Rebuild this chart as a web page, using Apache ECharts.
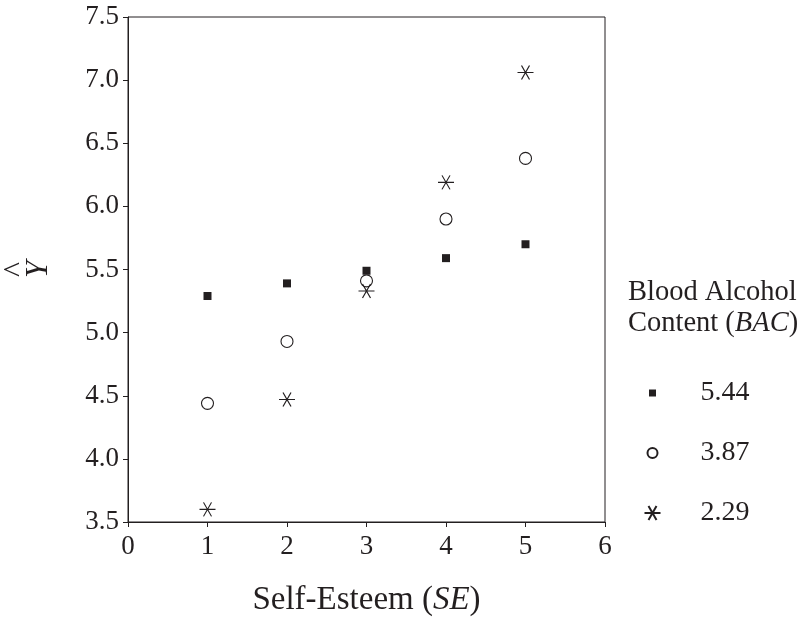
<!DOCTYPE html>
<html><head><meta charset="utf-8">
<script src="https://cdn.jsdelivr.net/npm/echarts@6/dist/echarts.min.js"></script>
<style>html,body{margin:0;padding:0;background:#fff}#c{width:801px;height:617px}</style>
</head><body><div id="c"></div>
<script>
const selfEsteem = [1, 2, 3, 4, 5];
const bac544 = [5.29, 5.39, 5.49, 5.59, 5.70];
const bac387 = [4.44, 4.93, 5.41, 5.90, 6.38];
const bac229 = [3.60, 4.47, 5.33, 6.19, 7.06];
const seriesNames = ['5.44', '3.87', '2.29'];
const xTicks = [0, 1, 2, 3, 4, 5, 6];
const yTicks = [3.5, 4.0, 4.5, 5.0, 5.5, 6.0, 6.5, 7.0, 7.5];

const ink = '#231f20';
const font = '"Liberation Serif", "Times New Roman", serif';
const star = 'path://M0,7 L16,7 M4,0 L12,14 M12,0 L4,14';
const legendSquare = 'path://M0,0 M16,14 M4.5,3.5 L11.5,3.5 L11.5,10.5 L4.5,10.5 Z';
const legendCircle = 'path://M0,0 M16,14 M13,7 A5,5 0 1 1 3,7 A5,5 0 1 1 13,7 Z';
const pairs = v => selfEsteem.map((x, i) => [x, v[i]]);

const chart = echarts.init(document.getElementById('c'));
chart.setOption({
  animation: false,
  textStyle: { fontFamily: font, color: ink },
  grid: { left: 128, right: 196, top: 17, bottom: 95, show: true, borderColor: ink, borderWidth: 1,
          containLabel: false, outerBoundsMode: 'none' },
  xAxis: {
    type: 'value', min: xTicks[0], max: xTicks[xTicks.length - 1], interval: 1,
    axisLine: { show: true, lineStyle: { color: ink, width: 1 } },
    axisTick: { show: true, length: 5, lineStyle: { color: ink } },
    splitLine: { show: false },
    axisLabel: { fontFamily: font, fontSize: 27, color: ink, margin: 11 },
    name: '{n|Self-Esteem (}{i|SE}{n|)}', nameLocation: 'middle', nameGap: 62,
    nameTextStyle: { rich: { n: { fontFamily: font, fontSize: 33, color: ink }, i: { fontFamily: font, fontSize: 33, fontStyle: 'italic', color: ink } } }
  },
  yAxis: {
    type: 'value', min: yTicks[0], max: yTicks[yTicks.length - 1], interval: 0.5,
    axisLine: { show: true, lineStyle: { color: ink, width: 1 } },
    axisTick: { show: true, length: 5, lineStyle: { color: ink } },
    splitLine: { show: false },
    axisLabel: { fontFamily: font, fontSize: 27, color: ink, margin: 9, formatter: v => v.toFixed(1) },
    name: '{h|^}\n{y|Y}', nameLocation: 'middle', nameGap: 75, nameRotate: 90,
    nameTextStyle: { align: 'center', rich: {
      h: { fontFamily: font, fontSize: 32, color: ink, lineHeight: 16, align: 'center' },
      y: { fontFamily: font, fontSize: 31, fontStyle: 'italic', color: ink, lineHeight: 28, align: 'center' } } }
  },
  legend: {
    orient: 'vertical', left: 637, top: 373, itemGap: 30, itemWidth: 16, itemHeight: 14,
    textStyle: { fontFamily: font, fontSize: 28, lineHeight: 30, color: ink, padding: [0, 0, 0, 35] },
    data: [
      { name: seriesNames[0], icon: legendSquare },
      { name: seriesNames[1], icon: legendCircle },
      { name: seriesNames[2], icon: star }
    ]
  },
  graphic: [{
    type: 'text', left: 628, top: 278,
    style: {
      text: '{n|Blood Alcohol}\n{n|Content (}{i|BAC}{n|)}',
      rich: { n: { fontFamily: font, fontSize: 28.5, fill: ink, lineHeight: 31 }, i: { fontFamily: font, fontSize: 28.5, fontStyle: 'italic', fill: ink, lineHeight: 31 } }
    }
  }],
  series: [
    { name: seriesNames[0], type: 'scatter', data: pairs(bac544), symbol: 'rect', symbolSize: 8,
      itemStyle: { color: ink, opacity: 1 } },
    { name: seriesNames[1], type: 'scatter', data: pairs(bac387), symbol: 'circle', symbolSize: 12,
      itemStyle: { color: '#fff', borderColor: ink, borderWidth: 1.1, opacity: 1 } },
    { name: seriesNames[2], type: 'scatter', data: pairs(bac229), symbol: star, symbolSize: [16, 14],
      itemStyle: { color: 'none', borderColor: ink, borderWidth: 1.1, opacity: 1 } }
  ]
});
</script></body></html>
